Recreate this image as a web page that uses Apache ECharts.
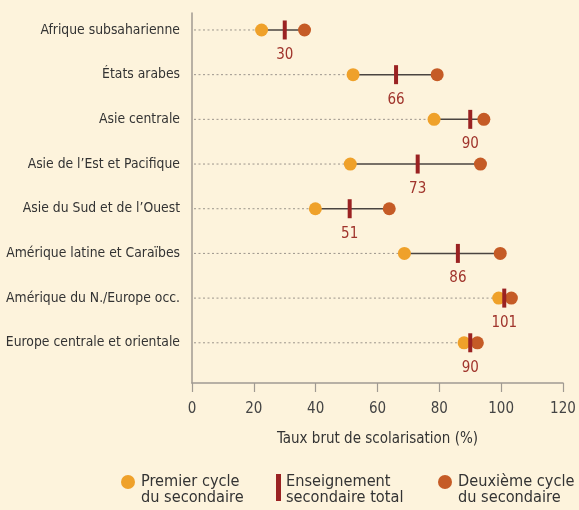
<!DOCTYPE html>
<html><head><meta charset="utf-8">
<script src="https://cdn.jsdelivr.net/npm/echarts@6/dist/echarts.min.js"></script>
<style>html,body{margin:0;padding:0;background:#fdf3dc}#c{width:579px;height:510px}</style>
</head><body><div id="c"></div>
<script>
const categories = ['Afrique subsaharienne','États arabes','Asie centrale','Asie de l’Est et Pacifique','Asie du Sud et de l’Ouest','Amérique latine et Caraïbes','Amérique du N./Europe occ.','Europe centrale et orientale'];
const premierCycle = [22.5, 52.1, 78.3, 51.2, 39.9, 68.7, 99.2, 88.0];
const deuxiemeCycle = [36.4, 79.3, 94.4, 93.3, 63.8, 99.7, 103.3, 92.3];
const total = [30, 66, 90, 73, 51, 86, 101, 90];
const xTicks = [0, 20, 40, 60, 80, 100, 120];

const FONT = "'Liberation Sans Narrow','DejaVu Sans Condensed',sans-serif";
const C_ORANGE = '#efa12a', C_RED = '#c55b26', C_BAR = '#9a2222', C_LABEL = '#a0342c';

const chart = echarts.init(document.getElementById('c'));
const rows = categories.map((c, i) => [i, premierCycle[i], deuxiemeCycle[i]]);
chart.setOption({
  backgroundColor: '#fdf3dc',
  animation: false,
  grid: {left: 192, right: 16, top: 13, bottom: 127, outerBoundsMode: 'none', containLabel: false},
  xAxis: {
    type: 'value', position: 'bottom', min: xTicks[0], max: xTicks[xTicks.length - 1], interval: 20,
    axisLine: {show: true, onZero: false, lineStyle: {color: '#a09a92', width: 1.5}},
    axisTick: {show: true, length: 9, lineStyle: {color: '#a09a92', width: 1.2}},
    axisLabel: {fontFamily: FONT, fontSize: 15, color: '#444', margin: 19},
    splitLine: {show: false},
    name: 'Taux brut de scolarisation (%)', nameLocation: 'middle', nameGap: 49,
    nameTextStyle: {fontFamily: FONT, fontSize: 15, color: '#333'}
  },
  yAxis: {
    type: 'value', inverse: true, min: -0.38, max: 7.9, position: 'left',
    axisLine: {show: true, onZero: false, lineStyle: {color: '#a09a92', width: 1.5}},
    axisTick: {show: false},
    splitLine: {show: false},
    axisLabel: {
      customValues: categories.map((c, i) => i),
      formatter: v => categories[Math.round(v)] || '',
      fontFamily: FONT, fontSize: 13.8, color: '#333', margin: 12
    }
  },
  series: [
    {
      type: 'custom', data: rows, z: 1,
      renderItem: (params, api) => {
        const i = api.value(0);
        const p0 = api.coord([0, i]);
        const p1 = api.coord([api.value(1), i]);
        const p2 = api.coord([api.value(2), i]);
        return {type: 'group', children: [
          {type: 'line', shape: {x1: p0[0] + 2, y1: p0[1], x2: p1[0], y2: p1[1]},
           style: {stroke: '#9c958c', lineWidth: 1, lineDash: [2, 2.5]}},
          {type: 'line', shape: {x1: p1[0], y1: p1[1], x2: p2[0], y2: p2[1]},
           style: {stroke: '#4a4440', lineWidth: 1.5}}
        ]};
      }
    },
    {type: 'scatter', z: 2, symbol: 'circle', symbolSize: 13,
     itemStyle: {color: C_ORANGE, opacity: 1},
     data: premierCycle.map((v, i) => [v, i])},
    {type: 'scatter', z: 3, symbol: 'circle', symbolSize: 13,
     itemStyle: {color: C_RED, opacity: 1},
     data: deuxiemeCycle.map((v, i) => [v, i])},
    {type: 'scatter', z: 4, symbol: 'rect', symbolSize: [4, 19],
     itemStyle: {color: C_BAR, opacity: 1},
     label: {show: true, position: 'bottom', distance: 8, formatter: p => String(p.value[0]),
             fontFamily: FONT, fontSize: 15, color: C_LABEL},
     data: total.map((v, i) => [v, i])}
  ],
  graphic: [
    {type: 'circle', shape: {cx: 128, cy: 482, r: 7}, style: {fill: C_ORANGE}},
    {type: 'text', left: 141, top: 474, style: {text: 'Premier cycle\ndu secondaire', font: "16.2px " + FONT, fill: '#333', lineHeight: 16}},
    {type: 'rect', shape: {x: 276, y: 474, width: 5, height: 27}, style: {fill: C_BAR}},
    {type: 'text', left: 286, top: 474, style: {text: 'Enseignement\nsecondaire total', font: "16.2px " + FONT, fill: '#333', lineHeight: 16}},
    {type: 'circle', shape: {cx: 445, cy: 482, r: 7}, style: {fill: C_RED}},
    {type: 'text', left: 458, top: 474, style: {text: 'Deuxième cycle\ndu secondaire', font: "16.2px " + FONT, fill: '#333', lineHeight: 16}}
  ]
});
</script></body></html>
